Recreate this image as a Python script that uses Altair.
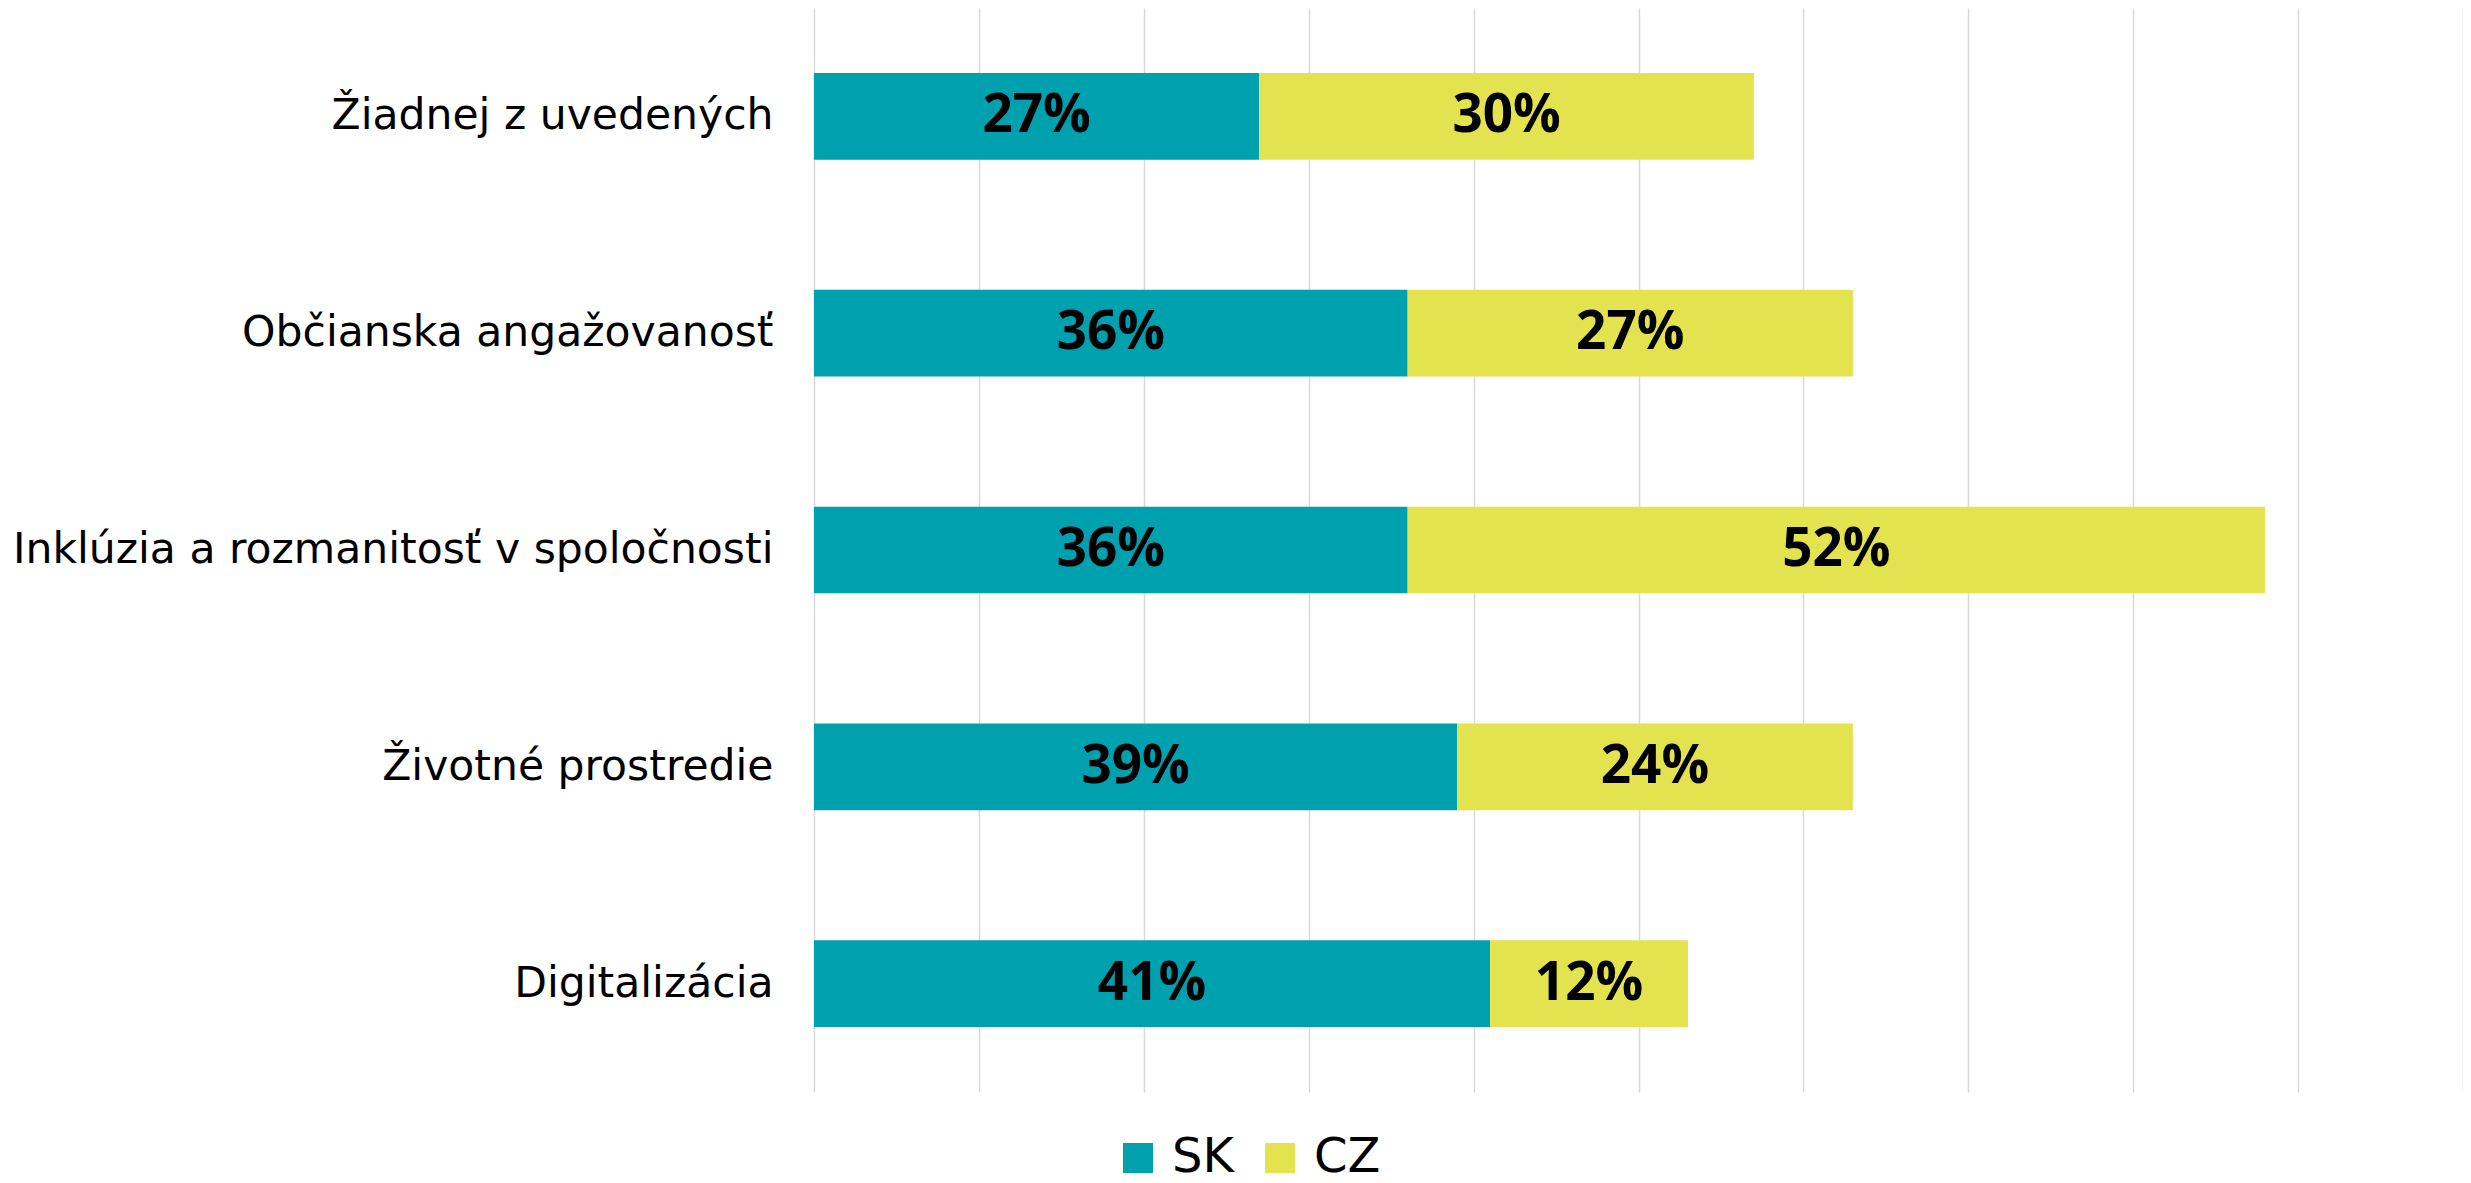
import altair as alt
import pandas as pd

categories = ["Žiadnej z uvedených", "Občianska angažovanosť",
              "Inklúzia a rozmanitosť v spoločnosti", "Životné prostredie",
              "Digitalizácia"]
series = ["SK", "CZ"]
sk_values = [27, 36, 36, 39, 41]
cz_values = [30, 27, 52, 24, 12]
colors = ["#00A1AF", "#E3E34F"]
grid_ticks = list(range(0, 101, 10))

rows = []
for c, s, z in zip(categories, sk_values, cz_values):
    rows.append({"cat": c, "series": "SK", "ord": 0, "value": s})
    rows.append({"cat": c, "series": "CZ", "ord": 1, "value": z})
df = pd.DataFrame(rows)

LABEL_FONT = "DejaVu Sans"
BOLD_FONT = "Open Sans"

base = alt.Chart(df).transform_stack(
    stack="value", groupby=["cat"], as_=["x0", "x1"],
    sort=[alt.SortField("ord", order="ascending")]
).transform_calculate(
    mid="(datum.x0 + datum.x1) / 2",
    label="datum.value + '%'"
)

y_enc = alt.Y("cat:N", sort=categories, title=None,
              scale=alt.Scale(paddingInner=0.6, paddingOuter=0.3),
              axis=alt.Axis(labelFont=LABEL_FONT, labelFontSize=42.5, labelColor="#000000",
                            labelPadding=41, ticks=False, domain=False,
                            labelLimit=1000))

bars = base.mark_bar().encode(
    x=alt.X("x0:Q", scale=alt.Scale(domain=[0, 100], nice=False), title=None,
            axis=alt.Axis(values=grid_ticks, labels=False, ticks=False, domain=False,
                          grid=True, gridColor="#D9D9D9", gridWidth=1.5)),
    x2="x1:Q",
    y=y_enc,
    color=alt.Color("series:N", scale=alt.Scale(domain=series, range=colors),
                    legend=alt.Legend(title=None, orient="none", legendX=300, legendY=1126,
                                      direction="horizontal", symbolType="square",
                                      symbolSize=900, symbolStrokeWidth=0,
                                      labelFont=LABEL_FONT, labelFontSize=48,
                                      labelColor="#000000", labelOffset=10,
                                      columnPadding=22, padding=0)),
)

texts = base.mark_text(font=BOLD_FONT, fontSize=53, fontWeight="bold", color="#000000",
                       baseline="middle", align="center").encode(
    x=alt.X("mid:Q"),
    y=alt.Y("cat:N", sort=categories),
    text="label:N",
)

chart = alt.layer(bars, texts).properties(
    width=1649, height=1084,
    autosize=alt.AutoSizeParams(type="none"),
    padding={"left": 806, "top": 0, "right": 0, "bottom": 91},
).configure_view(stroke=None)

chart.save("out.html", embed_options={"renderer": "svg", "actions": False})
